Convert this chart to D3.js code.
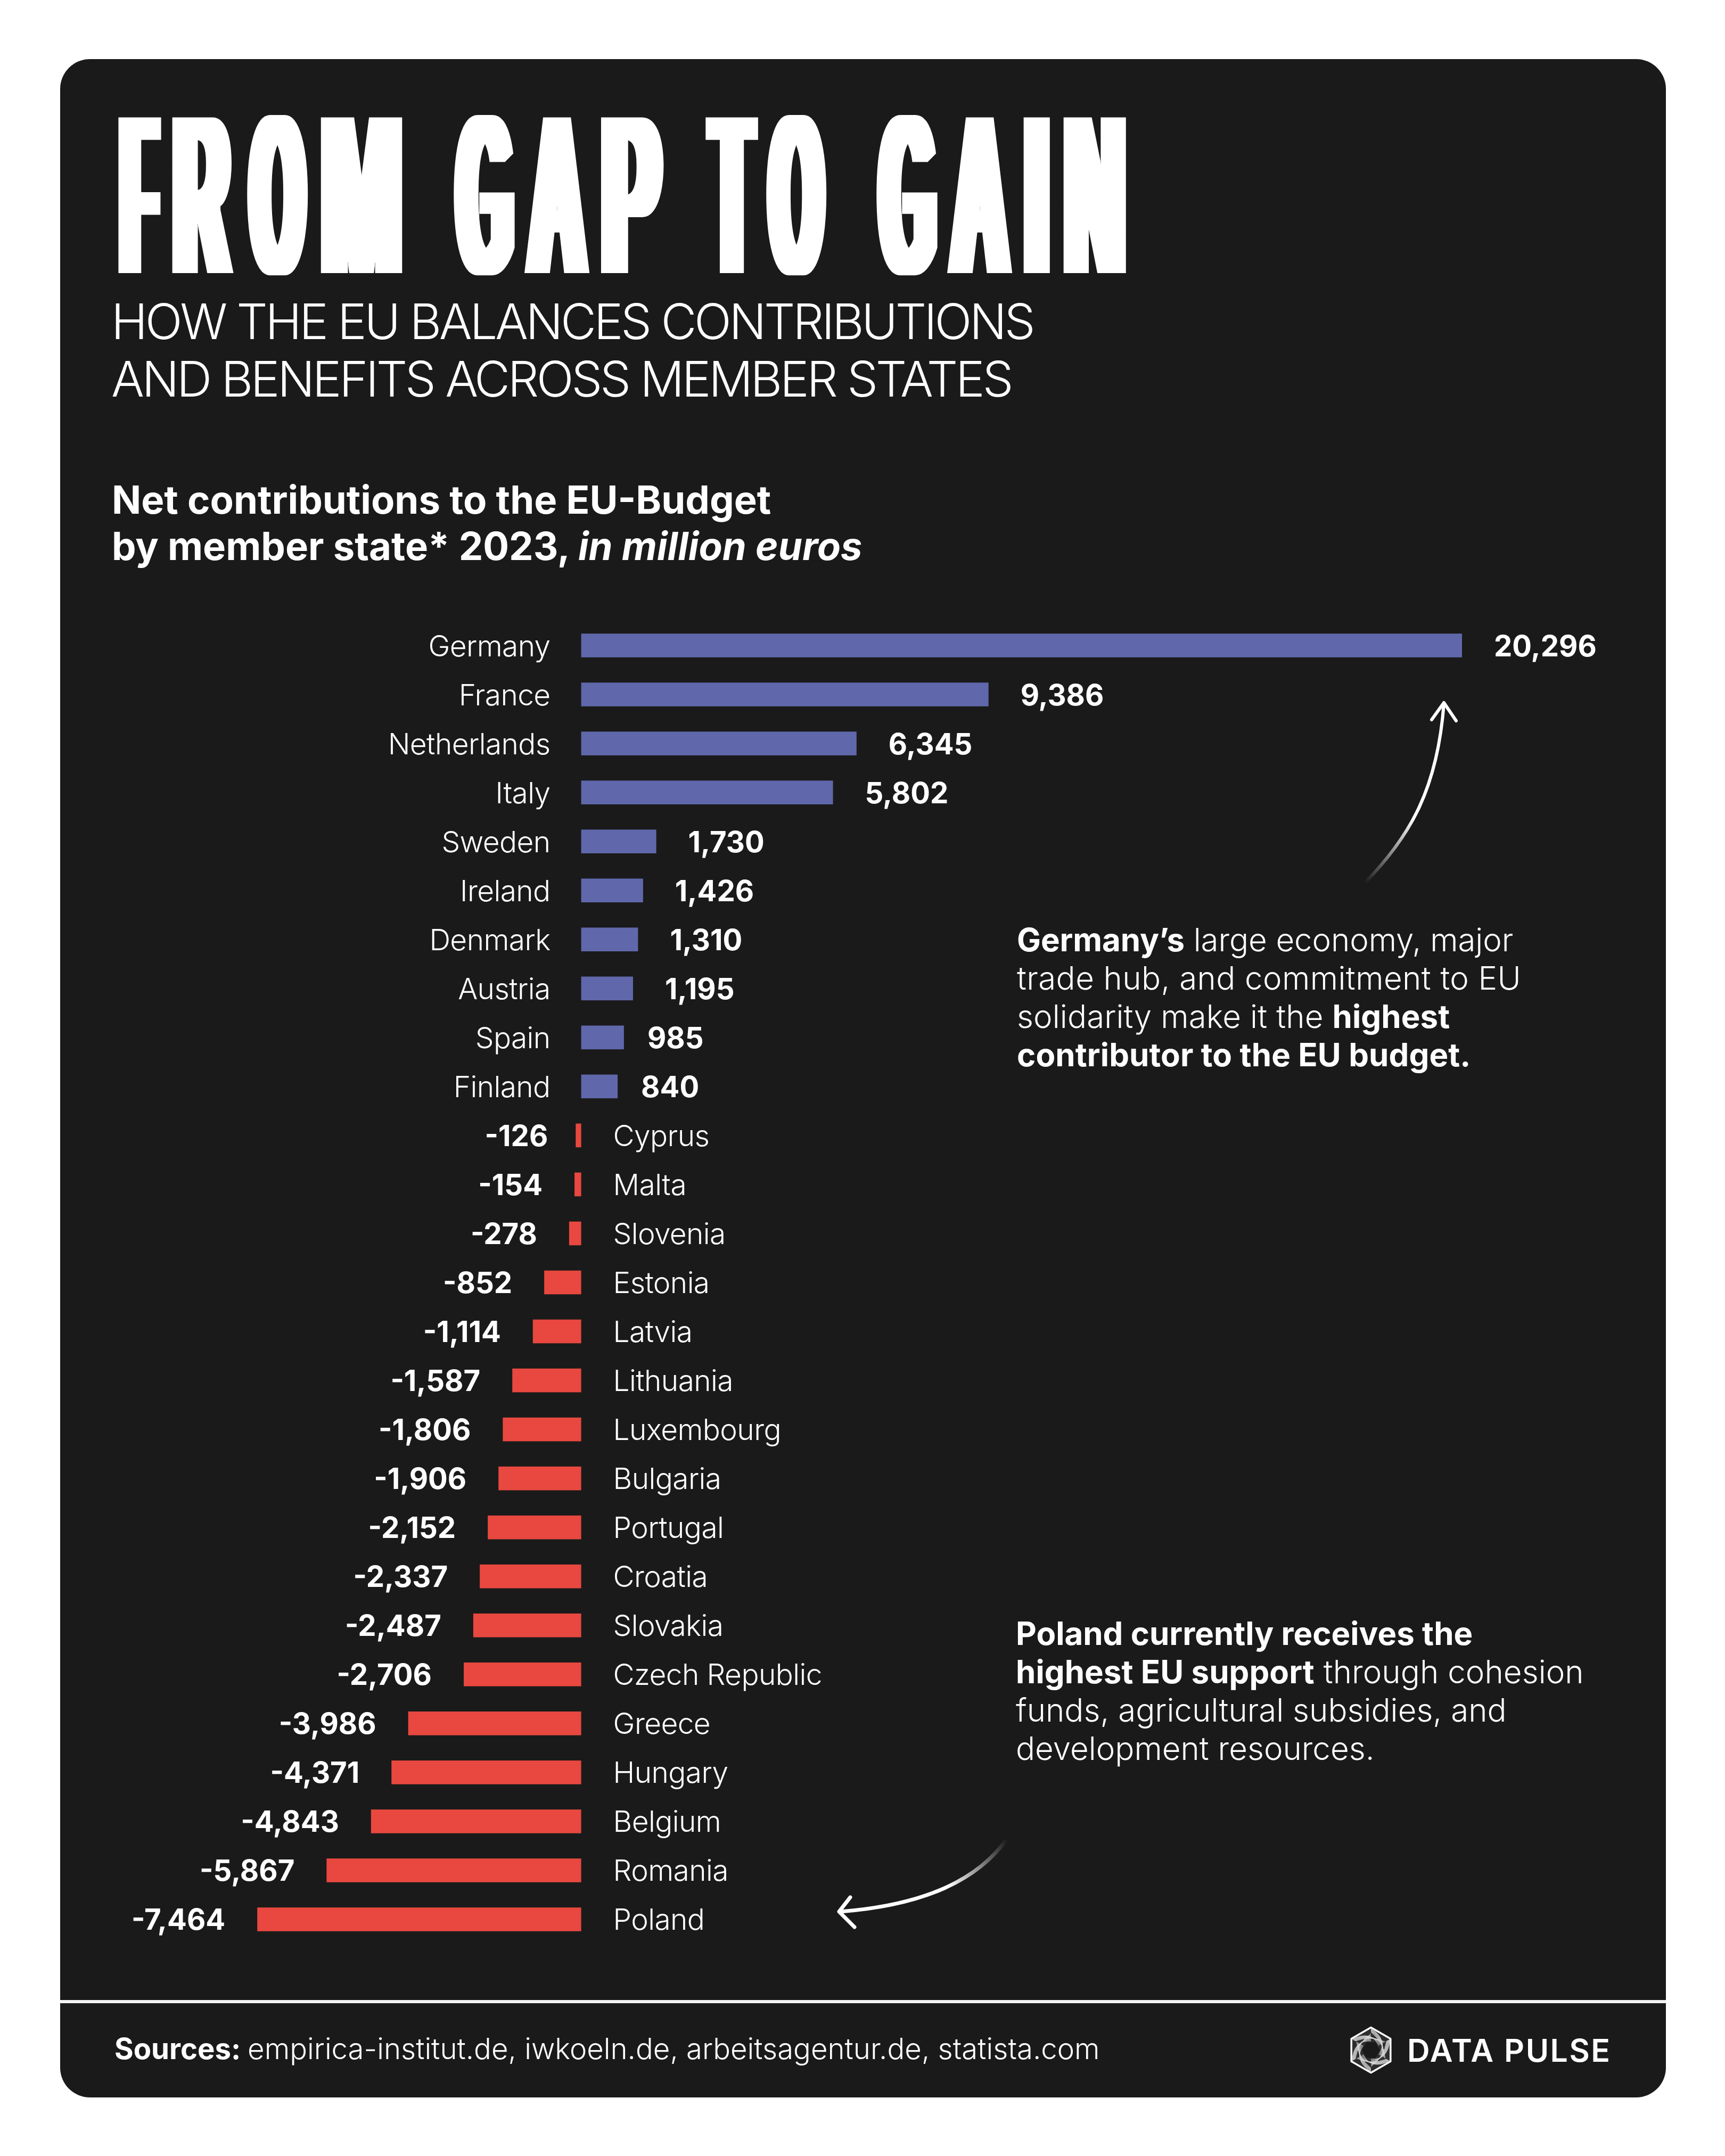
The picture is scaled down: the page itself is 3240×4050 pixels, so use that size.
<!DOCTYPE html>
<html>
<head>
<meta charset="utf-8">
<script src="https://cdn.jsdelivr.net/npm/d3@7"></script>
<style>
html, body { margin: 0; padding: 0; background: #fff; }
svg { display: block; }
text { font-family: Inter, "Noto Sans", sans-serif; fill: #fff; }
</style>
</head>
<body>
<div id="chart"></div>
<script>
// chart data, in million euros
var countries = ["Germany", "France", "Netherlands", "Italy", "Sweden", "Ireland", "Denmark", "Austria", "Spain", "Finland",
	"Cyprus", "Malta", "Slovenia", "Estonia", "Latvia", "Lithuania", "Luxembourg", "Bulgaria", "Portugal", "Croatia",
	"Slovakia", "Czech Republic", "Greece", "Hungary", "Belgium", "Romania", "Poland"];
var values = [20296, 9386, 6345, 5802, 1730, 1426, 1310, 1195, 985, 840,
	-126, -154, -278, -852, -1114, -1587, -1806, -1906, -2152, -2337,
	-2487, -2706, -3986, -4371, -4843, -5867, -7464];

var title = "FROM GAP TO GAIN";
var subtitle = ["HOW THE EU BALANCES CONTRIBUTIONS", "AND BENEFITS ACROSS MEMBER STATES"];
var sources = "empirica-institut.de, iwkoeln.de, arbeitsagentur.de, statista.com";

// note lines: each run is [text, bold]
var germanyNote = [
	[["Germany\u2019s", true], [" large economy, major", false]],
	[["trade hub, and commitment to EU", false]],
	[["solidarity make it the ", false], ["highest", true]],
	[["contributor to the EU budget.", true]]
];
var polandNote = [
	[["Poland currently receives the", true]],
	[["highest EU support", true], [" through cohesion", false]],
	[["funds, agricultural subsidies, and", false]],
	[["development resources.", false]]
];

var WIDTH = 3240, HEIGHT = 4050;
var PANEL = {x: 113, y: 111, w: 3016, h: 3829, r: 56};
var BLUE = "#6068AB", RED = "#E8483F", BG = "#1A1A1A";

// left and right ink edge of every title letter, null for the spaces
var TITLE_EDGES = [[222, 303], [323, 440], [463, 580], [602, 758], null,
	[851, 967], [983, 1109], [1128, 1245], null,
	[1324, 1425], [1438, 1554], null,
	[1645, 1761], [1777, 1903], [1922, 1973], [1997, 2115]];
var TITLE_FONT = "Liberation Sans Narrow";
var TITLE_SIZE = 434;
var TITLE_FATTEN = 14;

var svg = d3.select("#chart").append("svg")
	.attr("width", WIDTH)
	.attr("height", HEIGHT)
	.attr("viewBox", "0 0 " + WIDTH + " " + HEIGHT);

var defs = svg.append("defs");

// no condensed black face installed: fatten stems sideways, then thin the bars a little
var thicken = defs.append("filter").attr("id", "thicken")
	.attr("filterUnits", "userSpaceOnUse")
	.attr("x", 150).attr("y", 180).attr("width", 2100).attr("height", 380);
thicken.append("feMorphology").attr("operator", "dilate").attr("radius", TITLE_FATTEN + " 0").attr("result", "wide");
thicken.append("feMorphology").attr("in", "wide").attr("operator", "erode").attr("radius", "0 3");

function fadeGradient(id, x1, y1, x2, y2, stop) {
	var g = defs.append("linearGradient").attr("id", id)
		.attr("gradientUnits", "userSpaceOnUse")
		.attr("x1", x1).attr("y1", y1).attr("x2", x2).attr("y2", y2);
	g.append("stop").attr("offset", 0).attr("stop-color", "#fff").attr("stop-opacity", 0);
	g.append("stop").attr("offset", stop).attr("stop-color", "#fff").attr("stop-opacity", 1);
}
fadeGradient("fadeUp", 2563, 1659, 2712, 1320, 0.4);
fadeGradient("fadeLeft", 1891, 3455, 1576, 3591, 0.4);

svg.append("rect")
	.attr("x", PANEL.x).attr("y", PANEL.y)
	.attr("width", PANEL.w).attr("height", PANEL.h)
	.attr("rx", PANEL.r).attr("ry", PANEL.r)
	.attr("fill", BG);

// header
var titleText = svg.append("g").attr("filter", "url(#thicken)").append("text")
	.attr("y", 516)
	.style("font-family", "'" + TITLE_FONT + "', 'Liberation Sans', sans-serif")
	.attr("font-weight", 700)
	.attr("font-size", TITLE_SIZE);

// squeeze every glyph on its own so its ink lands on the measured edges
var measure = document.createElement("canvas").getContext("2d");
measure.font = "700 " + TITLE_SIZE + "px '" + TITLE_FONT + "', 'Liberation Sans', sans-serif";
title.split("").forEach(function (c, i) {
	var span = titleText.append("tspan").style("white-space", "pre").text(c);
	var edges = TITLE_EDGES[i];
	if (!edges) return;
	var m = measure.measureText(c);
	var inkLeft = -m.actualBoundingBoxLeft, inkRight = m.actualBoundingBoxRight;
	var s = (edges[1] - edges[0] - 2 * TITLE_FATTEN) / (inkRight - inkLeft);
	span.attr("x", edges[0] + TITLE_FATTEN - inkLeft * s)
		.attr("textLength", m.width * s)
		.attr("lengthAdjust", "spacingAndGlyphs");
});

svg.selectAll(".subtitle").data(subtitle).enter().append("text")
	.attr("class", "subtitle")
	.attr("x", 209)
	.attr("y", function (d, i) { return 637 + i * 108; })
	.attr("font-size", 92)
	.attr("font-weight", 300)
	.attr("letter-spacing", -4.35)
	.text(function (d) { return d; });

var heading = svg.append("text").attr("font-size", 72.4).attr("font-weight", 700);
heading.append("tspan").attr("x", 210).attr("y", 965).text("Net contributions to the EU-Budget");
heading.append("tspan").attr("x", 210).attr("y", 1052).text("by member state* 2023, ");
heading.append("tspan").attr("font-style", "italic").text("in million euros");

// bars
var x = d3.scaleLinear().domain([0, 20296]).range([1091.6, 2746]);
var y = d3.scaleBand().domain(countries).range([1166.5, 3651.5]).paddingInner(0.515).paddingOuter(0.2575);

// a few value labels sit closer to their bar than the rest
var VALUE_GAP = 60;
var valueGaps = {Spain: 44, Finland: 44, Cyprus: 52};
function valueGap(d) { return valueGaps[d] || VALUE_GAP; }

var rows = svg.append("g").selectAll("g").data(countries).enter().append("g");

rows.append("rect")
	.attr("x", function (d, i) { return Math.min(x(0), x(values[i])); })
	.attr("y", function (d) { return y(d); })
	.attr("width", function (d, i) { return Math.abs(x(values[i]) - x(0)); })
	.attr("height", y.bandwidth())
	.attr("fill", function (d, i) { return values[i] >= 0 ? BLUE : RED; });

rows.append("text")
	.attr("x", function (d, i) { return values[i] >= 0 ? x(0) - 58 : x(0) + 60; })
	.attr("y", function (d) { return y(d) + y.bandwidth() / 2 + 20; })
	.attr("text-anchor", function (d, i) { return values[i] >= 0 ? "end" : "start"; })
	.attr("font-size", 55)
	.attr("font-weight", 300)
	.attr("letter-spacing", -0.6)
	.text(function (d) { return d; });

var format = d3.format(",");
rows.append("text")
	.attr("x", function (d, i) { return values[i] >= 0 ? x(values[i]) + valueGap(d) : x(values[i]) - valueGap(d); })
	.attr("y", function (d) { return y(d) + y.bandwidth() / 2 + 20; })
	.attr("text-anchor", function (d, i) { return values[i] >= 0 ? "start" : "end"; })
	.attr("font-size", 54.5)
	.attr("font-weight", 700)
	.text(function (d, i) { return format(values[i]).replace("\u2212", "-"); });

// annotations
function renderNote(lines, left, top, spacing) {
	lines.forEach(function (line, i) {
		var t = svg.append("text")
			.attr("x", left)
			.attr("y", top + i * 72)
			.attr("font-size", 60)
			.attr("letter-spacing", spacing[i]);
		line.forEach(function (run) {
			t.append("tspan")
				.attr("font-weight", run[1] ? 700 : 300)
				.style("white-space", "pre")
				.text(run[0]);
		});
	});
}
renderNote(germanyNote, 1910, 1787, [-0.1, 0.4, 0.1, 0.1]);
renderNote(polandNote, 1908, 3090, [0, 0.05, 0, 0]);

svg.append("path")
	.attr("d", "M2563,1659C2650,1570 2700,1480 2712,1322")
	.attr("fill", "none").attr("stroke", "url(#fadeUp)").attr("stroke-width", 6);
svg.append("path")
	.attr("d", "M2689,1352L2712,1320L2735,1354")
	.attr("fill", "none").attr("stroke", "#fff").attr("stroke-width", 6)
	.attr("stroke-linecap", "round").attr("stroke-linejoin", "round");
svg.append("path")
	.attr("d", "M1891,3455C1830,3540 1720,3580 1578,3591")
	.attr("fill", "none").attr("stroke", "url(#fadeLeft)").attr("stroke-width", 7);
svg.append("path")
	.attr("d", "M1597,3564L1576,3591L1605,3620")
	.attr("fill", "none").attr("stroke", "#fff").attr("stroke-width", 7)
	.attr("stroke-linecap", "round").attr("stroke-linejoin", "round");

// footer
svg.append("rect")
	.attr("x", PANEL.x).attr("y", 3757)
	.attr("width", PANEL.w).attr("height", 6)
	.attr("fill", "#f2f2f2");

var foot = svg.append("text").attr("x", 215).attr("y", 3868).attr("font-size", 54.5);
foot.append("tspan").attr("font-weight", 700).text("Sources: ");
foot.append("tspan").attr("font-weight", 300).text(sources);

// logo, a hexagon of six twisted ribbons
function renderLogo(cx, cy) {
	var g = svg.append("g").attr("transform", "translate(" + cx + "," + cy + ")");
	var pt = function (r, k) {
		var a = -Math.PI / 2 + k * Math.PI / 3;
		return [r * Math.cos(a), r * Math.sin(a)];
	};
	var hexPath = function (r, turn) {
		var p = d3.path();
		d3.range(6).forEach(function (k) {
			var v = pt(r, k + turn);
			if (k === 0) p.moveTo(v[0], v[1]); else p.lineTo(v[0], v[1]);
		});
		p.closePath();
		return p.toString();
	};
	g.append("path").attr("d", hexPath(42.5, 0))
		.attr("fill", "#2e2e2e").attr("stroke", "#fff").attr("stroke-width", 3.5).attr("stroke-linejoin", "round");

	d3.range(6).forEach(function (k) {
		d3.range(10).forEach(function (j) {
			var t = j / 9;
			var a = pt(41 - t * 7, k);
			var b = pt(17 + t * 14, k + 2);
			var c = pt(38 - t * 10, k + 1);
			var p = d3.path();
			p.moveTo(a[0], a[1]);
			p.quadraticCurveTo(c[0], c[1], b[0], b[1]);
			g.append("path").attr("d", p.toString())
				.attr("fill", "none").attr("stroke", "#d8d8d8").attr("stroke-width", 0.8);
		});
	});
	g.append("path").attr("d", hexPath(17, 0.5)).attr("fill", BG);
}
renderLogo(2575, 3851);

svg.append("text")
	.attr("x", 2643).attr("y", 3873)
	.attr("font-size", 59)
	.attr("font-weight", 600)
	.attr("textLength", 381)
	.attr("lengthAdjust", "spacing")
	.text("DATA PULSE");
</script>
</body>
</html>
